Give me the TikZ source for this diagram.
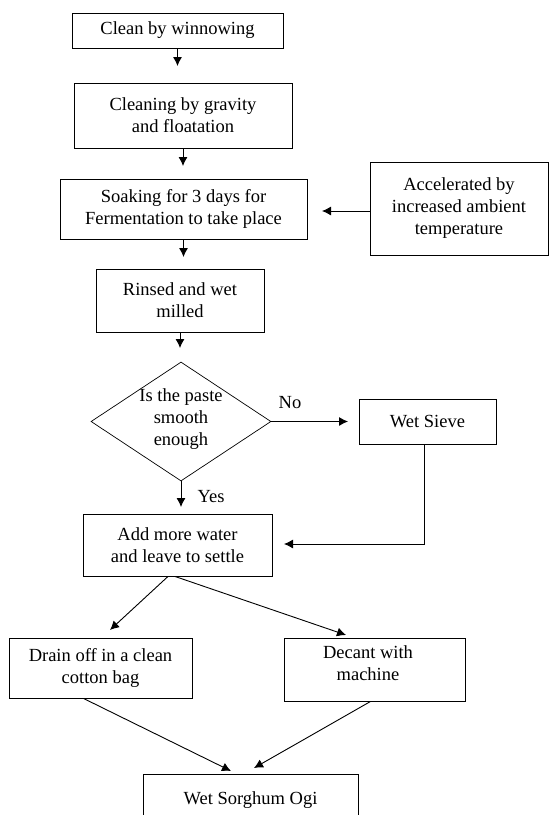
\documentclass[tikz,border=0pt]{standalone}
\usepackage{fontspec}
\setmainfont{Liberation Serif}
\usetikzlibrary{arrows.meta,shapes.geometric,calc}
\begin{document}
\begin{tikzpicture}[x=1pt,y=-1pt,
  every node/.style={font=\fontsize{18.5}{22}\selectfont},
  box/.style={draw=black,line width=0.9pt,rectangle,inner sep=0pt,align=center},
  lbl/.style={inner sep=0pt,align=center},
  arr/.style={line width=0.9pt,-{Latex[length=9pt,width=9pt]}}]
\useasboundingbox (0,0) rectangle (549,815);
\clip (0,0) rectangle (549,815);
% boxes
\node[box,minimum width=211pt,minimum height=35pt] (b1) at (177.5,30.5) {Clean by winnowing};
\node[box,minimum width=218pt,minimum height=65pt] (b2) at (183,115.5) {Cleaning by gravity\\and floatation};
\node[box,minimum width=247pt,minimum height=60pt] (b3) at (183.5,209) {Soaking for 3 days for\\Fermentation to take place};
\node[box,minimum width=178pt,minimum height=93pt] (acc) at (459,208.5) {Accelerated by\\increased ambient\\temperature};
\node[box,minimum width=168pt,minimum height=63pt] (b4) at (180,300.5) {Rinsed and wet\\milled};
\node[draw=black,line width=0.7pt,diamond,inner sep=0pt,minimum width=180pt,minimum height=119pt] (dia) at (181,421.5) {};
\node[lbl] (diat) at (181,419) {Is the paste\\smooth\\enough};
\node[box,minimum width=137pt,minimum height=45pt] (sieve) at (427.5,421.5) {Wet Sieve};
\node[box,minimum width=189pt,minimum height=62pt] (b5) at (177.5,545) {Add more water\\and leave to settle};
\node[box,minimum width=183pt,minimum height=60pt] (drain) at (100.5,668) {Drain off in a clean\\cotton bag};
\node[box,minimum width=181pt,minimum height=63pt] (dec) at (374.5,669.5) {};
\node[lbl] (dect) at (368,663) {Decant with\\machine};
\node[box,minimum width=215pt,minimum height=52pt] (ogi) at (250.5,800) {Wet Sorghum Ogi};
% labels
\node[lbl] (no) at (290,403) {No};
\node[lbl] (yes) at (211,497) {Yes};
% free arrow ends
\coordinate (t1) at (177.5,66);
\coordinate (t2) at (183,166);
\coordinate (t3) at (183.5,257);
\coordinate (tacc) at (322,211);
\coordinate (t4) at (180,348);
\coordinate (tno) at (348,421.5);
\coordinate (tyes) at (181,507);
\coordinate (sc) at (424,544);
\coordinate (tsieve) at (284,544);
\coordinate (td1) at (110,630);
\coordinate (td2) at (346,635);
\coordinate (to1) at (231,771);
\coordinate (to2) at (254,768);
% connectors
\draw[arr] (b1.south) -- (t1);
\draw[arr] (b2.south) -- (t2);
\draw[arr] (b3.south) -- (t3);
\draw[arr] (acc.west |- tacc) -- (tacc);
\draw[arr] (b4.south) -- (t4);
\draw[arr] (dia.east) -- (tno);
\draw[arr] (dia.south) -- (tyes);
\draw[arr] (sieve.south -| sc) -- (sc) -- (tsieve);
\draw[arr] ($(b5.south)+(-9.5,0)$) -- (td1);
\draw[arr] ($(b5.south)+(-2.5,0)$) -- (td2);
\draw[arr] ($(drain.south)+(-17,0)$) -- (to1);
\draw[arr] ($(dec.south)+(-4,0)$) -- (to2);
\end{tikzpicture}
\end{document}
